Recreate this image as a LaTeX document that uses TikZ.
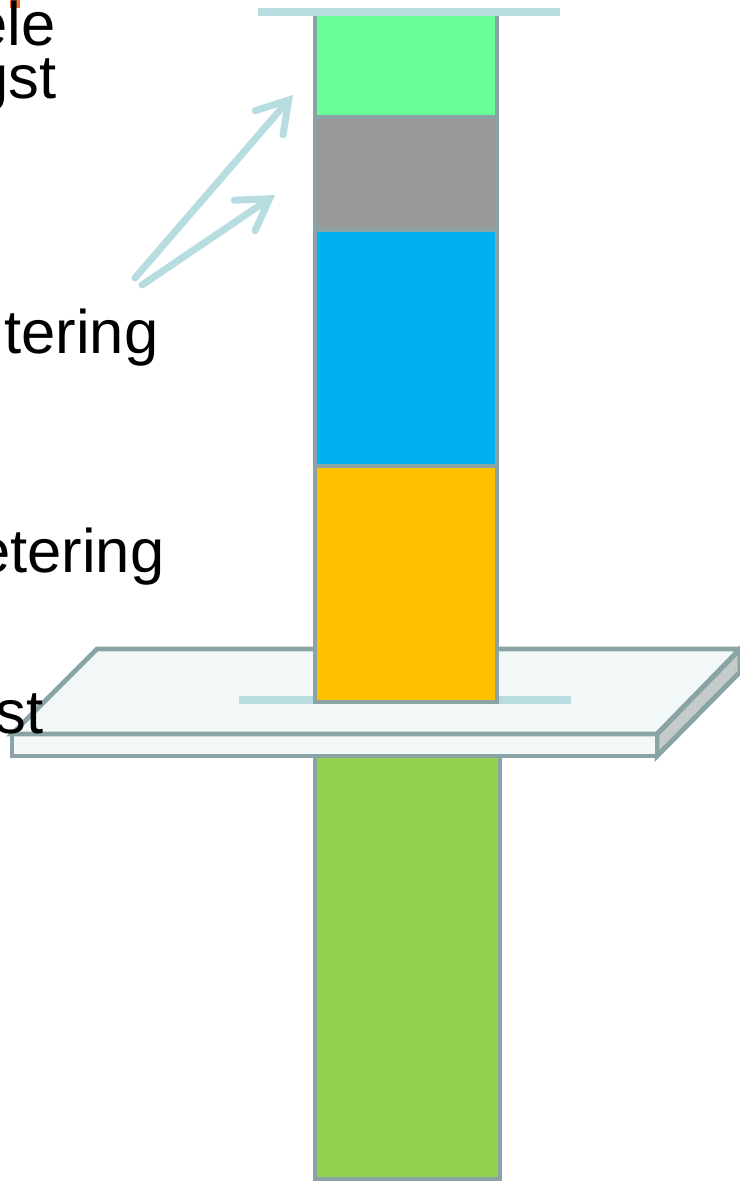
\documentclass[tikz,border=0pt]{standalone}
\usepackage{fontspec}
\setmainfont{Liberation Sans}
\usepackage{xcolor}
\usepackage{tikz}
\usetikzlibrary{arrows.meta,positioning,calc}
\definecolor{barblue}{HTML}{B7DDE0}
\definecolor{edgegray}{HTML}{8AA3A5}
\definecolor{layergreen}{HTML}{69FF96}
\definecolor{layergray}{HTML}{999999}
\definecolor{layerblue}{HTML}{00B0F0}
\definecolor{layerorange}{HTML}{FFC000}
\definecolor{stemgreen}{HTML}{92D050}
\definecolor{platefill}{HTML}{F2F8F8}
\definecolor{plateside}{HTML}{C5CBCB}
\definecolor{markorange}{HTML}{E97132}
\tikzstyle{layer} = [draw=edgegray, line width=1.2pt]
\tikzstyle{plate} = [draw=edgegray, line width=1.4pt, line join=miter]
\tikzstyle{bar} = [draw=barblue, line width=2.2pt]
\tikzstyle{label} = [anchor=base east, inner sep=0pt, font=\fontsize{17.5}{21}\selectfont]
\tikzstyle{pointer} = [barblue, line width=2pt, line cap=round,
    -{Straight Barb[length=8.5pt, width=10.5pt, line cap=round]}]

\begin{document}
\begin{tikzpicture}[x=0.01cm, y=-0.01cm]
\useasboundingbox (0,0) rectangle (740,1181);
% Lower stem
\filldraw[layer, fill=stemgreen] (315,750) rectangle (500,1179);
% Plate
\filldraw[plate, fill=plateside] (657,734) -- (740,649) -- (740,672) -- (657,756) -- cycle;
\filldraw[plate, fill=platefill] (12,734) rectangle (657,756);
\filldraw[plate, fill=platefill] (97,649) -- (740,649) -- (657,734) -- (12,734) -- cycle;
\draw[bar] (239,700) -- (571,700);
% Layers
\filldraw[layer, fill=layerorange] (315,466) rectangle (497,702);
\filldraw[layer, fill=layerblue] (315,230) rectangle (497,466);
\filldraw[layer, fill=layergray] (315,117) rectangle (497,230);
\filldraw[layer, fill=layergreen] (315,13) rectangle (497,117);
\draw[bar] (258,12) -- (560,12);
% Labels (cut at the left edge)
\fill[markorange] (10,0) rectangle (20,8);
\node[label] (l1) at (56,45) {ele};
\node[label] (l2) at (57,98) {gst};
\node[label] (l3) at (159,353) {tering};
\node[label] (l4) at (165,572) {etering};
\node[label] (l5) at (44,733) {st};
% Pointers
\coordinate (p1) at (135,278);
\coordinate (p2) at (142,285);
\coordinate (t1) at (293,95);
\coordinate (t2) at (275,195);
\draw[pointer] (p1) -- (t1);
\draw[pointer] (p2) -- (t2);
\end{tikzpicture}
\end{document}
